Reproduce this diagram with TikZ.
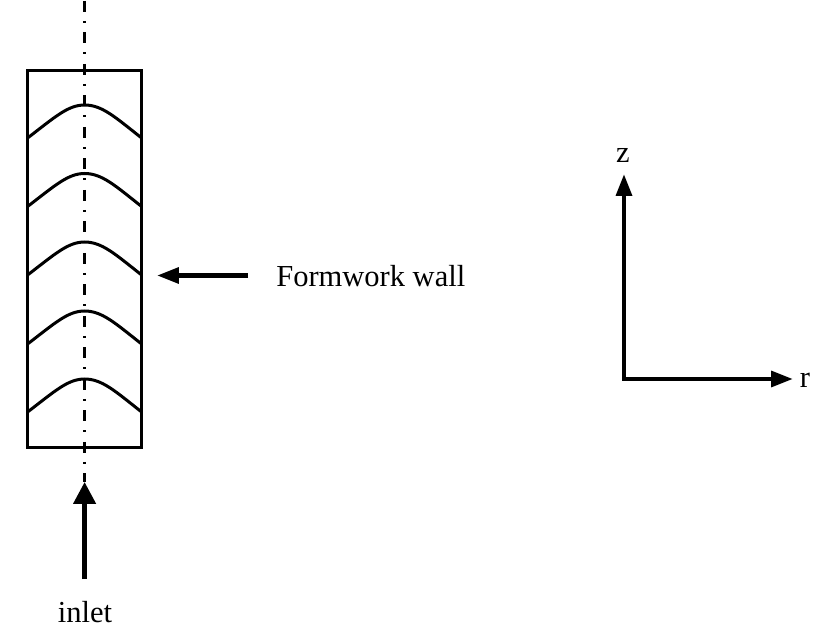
\documentclass[tikz,border=0pt]{standalone}
\usepackage{fontspec}
\setmainfont{Liberation Serif}
\usetikzlibrary{arrows.meta}
\tikzset{
	wall/.style={line width=3pt*0.711},
	axisline/.style={line width=3pt*0.711, dash pattern=on 7.8pt off 6.4pt on 1.4pt off 6.8pt},
	flow/.style={line width=4.5pt*0.711, -{Triangle[length=15.5pt, width=15.5pt]}},
	dirarrow/.style={line width=4.5pt*0.711, -{Triangle[length=15.5pt, width=11pt]}},
	lbl/.style={inner sep=0pt, font=\fontsize{21.7}{26}\selectfont}
}
\begin{document}
\begin{tikzpicture}[x=0.025cm,y=-0.025cm]
		\useasboundingbox (0,0) rectangle (820,628);

		% Formwork
		\node at (84.6,259) (box) [draw, wall, minimum width=114*0.025cm, minimum height=376*0.025cm, inner sep=0pt, outer sep=0pt] {};
		\foreach \y in {105,173.5,242,311,379}{
			\draw [wall] (box.west |- 0,\y+33) .. controls (55,\y+12) and (68,\y) .. (84.6,\y) .. controls (102,\y) and (115,\y+12) .. (box.east |- 0,\y+33);
		}

		% Centre line and inlet
		\coordinate (top) at (84.6,1);
		\coordinate (tip) at (84.6,482);
		\coordinate (tail) at (84.6,579);
		\draw [axisline] (top) -- (tip);
		\draw [flow] (tail) -- (tip);
		\node [lbl] at (85,612) (inlet) {inlet};

		% Wall label
		\coordinate (wallstart) at (248,275.5);
		\coordinate (wallend) at (157,275.5);
		\draw [dirarrow] (wallstart) -- (wallend);
		\node [lbl, right] at (276,276) (wallname) {Formwork wall};

		% Axes
		\coordinate (origin) at (624,379);
		\coordinate (zend) at (624,174);
		\coordinate (rend) at (793,379);
		\draw [dirarrow] ([yshift=-1.2pt]origin) -- (zend);
		\draw [dirarrow] ([xshift=-1.2pt]origin) -- (rend);
		\node [lbl] at (623,156) (zname) {z};
		\node [lbl] at (805,380) (rname) {r};
	\end{tikzpicture}
\end{document}
